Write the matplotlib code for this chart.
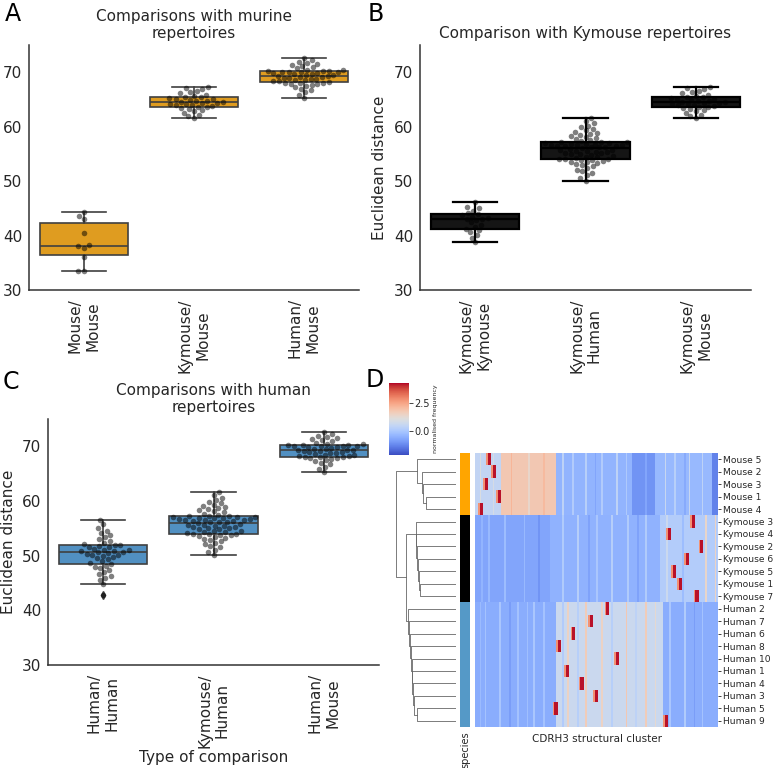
import numpy as np
import pandas as pd
import matplotlib
matplotlib.use("Agg")
import matplotlib.pyplot as plt
import seaborn as sns

# ============================================================
# DATA
# ============================================================

# pairwise Euclidean distances per comparison type
MOUSE_MOUSE = [33.5, 33.5, 36.0, 37.7, 38.0, 38.3, 40.5, 43.0, 43.6, 44.3]
KYMOUSE_KYMOUSE = [38.8, 39.6, 40.1, 40.6, 41.0, 41.2, 41.6, 42.0, 42.4, 42.8, 43.0,
                   43.1, 43.3, 43.5, 43.7, 43.9, 44.2, 44.6, 45.0, 45.2, 46.1]
KYMOUSE_MOUSE = [61.6, 61.9, 62.2, 62.5, 62.8, 63.0, 63.2, 63.4, 63.6, 63.7, 63.8, 63.9,
                 64.0, 64.1, 64.2, 64.3, 64.4, 64.5, 64.6, 64.7, 64.8, 64.9, 65.0, 65.1,
                 65.2, 65.4, 65.5, 65.7, 65.9, 66.1, 66.4, 66.6, 66.9, 67.1, 67.2]
HUMAN_MOUSE = [65.3, 65.8, 66.3, 66.7, 67.0, 67.3, 67.5, 67.7, 67.8, 67.9,
               68.0, 68.0, 68.1, 68.2, 68.3, 68.4, 68.5, 68.6, 68.7, 68.8,
               68.9, 69.0, 69.1, 69.2, 69.3, 69.3, 69.4, 69.5, 69.6, 69.7,
               69.8, 69.9, 70.0, 70.0, 70.1, 70.1, 70.2, 70.2, 70.3, 70.4,
               70.5, 70.7, 70.9, 71.1, 71.3, 71.5, 71.7, 71.9, 72.2, 72.6]
KYMOUSE_HUMAN = [50.1, 50.6, 51.1, 51.5, 51.8, 52.1, 52.4, 52.7, 52.9, 53.1,
                 53.3, 53.5, 53.6, 53.7, 53.8, 53.9, 54.0, 54.0, 54.1, 54.3,
                 54.4, 54.5, 54.6, 54.8, 54.9, 55.0, 55.1, 55.2, 55.3, 55.4,
                 55.5, 55.6, 55.7, 55.8, 55.9, 56.1, 56.2, 56.2, 56.3, 56.4,
                 56.5, 56.5, 56.6, 56.7, 56.7, 56.8, 56.9, 56.9, 57.0, 57.0,
                 57.1, 57.2, 57.2, 57.3, 57.5, 57.7, 57.9, 58.1, 58.3, 58.5,
                 58.7, 58.9, 59.1, 59.3, 59.6, 59.9, 60.2, 60.6, 61.1, 61.6]
HUMAN_HUMAN = [42.8,
               44.8, 45.6, 46.0, 46.3, 46.6, 47.0, 47.4, 47.8, 48.0, 48.2,
               48.4,
               48.7, 49.0, 49.3, 49.6, 49.8, 50.0, 50.1, 50.2, 50.3, 50.5,
               50.6,
               50.7, 50.8, 50.9, 51.0, 51.1, 51.3, 51.5, 51.6, 51.8, 51.9,
               52.0,
               52.2, 52.4, 52.7, 53.0, 53.4, 53.8, 54.2, 54.6, 55.0, 55.8, 56.6]

PANEL_A_LABELS = ["Mouse/\nMouse", "Kymouse/\nMouse", "Human/\nMouse"]
PANEL_B_LABELS = ["Kymouse/\nKymouse", "Kymouse/\nHuman", "Kymouse/\nMouse"]
PANEL_C_LABELS = ["Human/\nHuman", "Kymouse/\nHuman", "Human/\nMouse"]

# heatmap rows (top to bottom)
ROW_LABELS = ["Mouse 5", "Mouse 2", "Mouse 3", "Mouse 1", "Mouse 4",
              "Kymouse 3", "Kymouse 4", "Kymouse 2", "Kymouse 6", "Kymouse 5",
              "Kymouse 1", "Kymouse 7",
              "Human 2", "Human 7", "Human 6", "Human 8", "Human 10", "Human 1",
              "Human 4", "Human 3", "Human 5", "Human 9"]
ROW_SPECIES = ["Mouse"] * 5 + ["Kymouse"] * 7 + ["Human"] * 10

# base level of each species over stretches of the cluster axis (fraction start, end, value)
BASE_SEGMENTS = {
    "Mouse": [(0.00, 0.11, 0.5), (0.11, 0.333, 1.8), (0.333, 0.646, -0.4),
              (0.646, 0.741, -1.0), (0.741, 0.975, -0.3), (0.975, 1.0, -1.3)],
    "Kymouse": [(0.00, 0.31, -0.7), (0.31, 0.76, -0.45), (0.76, 1.0, 0.2)],
    "Human": [(0.00, 0.33, -0.55), (0.33, 0.77, 0.7), (0.77, 1.0, -0.55)],
}
# vertical streaks (fraction, added value)
STREAKS = {
    "Mouse": [(0.02, 0.5), (0.07, 0.4), (0.15, 0.4), (0.22, -0.4), (0.28, 0.3),
              (0.36, 0.8), (0.40, 0.6), (0.45, 0.7), (0.49, -0.3), (0.52, 0.6),
              (0.58, 0.8), (0.62, 0.5), (0.70, 0.3), (0.78, 0.9), (0.82, 0.6),
              (0.86, -0.3), (0.88, 0.9), (0.93, 0.7)],
    "Kymouse": [(0.03, 0.3), (0.05, 0.4), (0.12, 0.5), (0.20, 0.4), (0.26, -0.3),
                (0.36, 0.6), (0.42, 0.7), (0.47, -0.3), (0.50, 0.5), (0.56, 0.7),
                (0.63, 0.6), (0.67, -0.3), (0.70, 0.6), (0.79, 0.5), (0.85, -0.4),
                (0.95, 1.2), (0.985, 1.3)],
    "Human": [(0.02, 0.3), (0.04, 0.5), (0.10, 0.6), (0.14, -0.3), (0.17, 0.5),
              (0.21, 0.4), (0.24, 0.6), (0.28, 0.5), (0.36, -0.5), (0.38, 0.8),
              (0.42, -0.4), (0.45, 1.0), (0.52, 0.8), (0.56, -0.4), (0.62, 1.1),
              (0.66, -0.3), (0.70, 1.0), (0.74, 0.6), (0.80, 0.6), (0.86, 0.7),
              (0.90, -0.3), (0.93, 0.5)],
}
# per-row enriched cluster (fraction along the cluster axis)
HOTSPOTS = [0.059, 0.082, 0.044, 0.103, 0.027,
            0.898, 0.802, 0.933, 0.871, 0.823, 0.844, 0.912,
            0.549, 0.480, 0.409, 0.350, 0.587, 0.380, 0.439, 0.503, 0.333, 0.786]
HOT_VALUE = 4.2
HOT_SHOULDER = 2.8
N_CLUSTERS = 150

SPECIES_COLORS = {"Mouse": "#ffa500", "Kymouse": "#000000", "Human": "#5599c7"}

# dendrogram: (merge height, left, right), leaves are row indices
MOUSE_TREE = (39.3, 0, (34.3, 1, (32.7, 2, (30.3, 3, 4))))
KYMOUSE_TREE = (40.3, 5, (39.7, 6, (38.7, 7, (37.7, 8, (36.7, 9, (35.7, 10, 11))))))
HUMAN_TREE = (47.7, 12, (46.7, 13, (45.7, 14, (45.0, 15, (44.3, 16, (43.7, 17,
              (42.7, 18, (41.7, 19, (39.3, 20, 21)))))))))
ROOT_TREE = (60.3, MOUSE_TREE, (50.3, KYMOUSE_TREE, HUMAN_TREE))

# ============================================================
# FIGURE
# ============================================================

W, H = 774, 768
plt.rcParams["font.family"] = "DejaVu Sans"
plt.rcParams["text.color"] = "#262626"
plt.rcParams["axes.labelcolor"] = "#262626"
plt.rcParams["xtick.color"] = "#262626"
plt.rcParams["ytick.color"] = "#262626"

fig = plt.figure(figsize=(W / 100, H / 100), dpi=100)


def px_axes(left, top, right, bottom):
    return fig.add_axes([left / W, 1 - bottom / H, (right - left) / W, (bottom - top) / H])


def box_panel(ax, data, labels, fill, line, lw, title):
    ax.boxplot(data, positions=[0, 1, 2], widths=0.8, patch_artist=True, zorder=0.9,
               boxprops=dict(facecolor=fill, edgecolor=line, linewidth=lw),
               medianprops=dict(color=line, linewidth=lw),
               whiskerprops=dict(color=line, linewidth=lw),
               capprops=dict(color=line, linewidth=lw),
               flierprops=dict(marker="d", markerfacecolor=line, markeredgecolor=line,
                               markersize=4))
    df = pd.DataFrame({
        "comp": np.repeat(labels, [len(d) for d in data]),
        "dist": np.concatenate(data),
    })
    sns.swarmplot(data=df, x="comp", y="dist", order=labels, color="black", alpha=0.5,
                  size=4, ax=ax)
    ax.set_xlim(-0.5, 2.5)
    ax.set_ylim(30, 75)
    ax.set_yticks([30, 40, 50, 60, 70])
    ax.set_xticks([0, 1, 2])
    ax.set_xticklabels(labels, rotation=90, fontsize=11)
    ax.tick_params(axis="y", labelsize=11, length=0, pad=5)
    ax.tick_params(axis="x", length=0, pad=6)
    ax.set_xlabel("")
    ax.set_ylabel("")
    ax.set_title(title, fontsize=11, pad=5)
    for side in ["top", "right"]:
        ax.spines[side].set_visible(False)
    for side in ["left", "bottom"]:
        ax.spines[side].set_color("#333333")
        ax.spines[side].set_linewidth(1.1)


# ---------------- A
ax_a = px_axes(29, 45, 359, 290)
box_panel(ax_a, [MOUSE_MOUSE, KYMOUSE_MOUSE, HUMAN_MOUSE], PANEL_A_LABELS,
          "#df9c20", "#404040", 1.2, "Comparisons with murine\nrepertoires")

# ---------------- B
ax_b = px_axes(420, 45, 751, 290)
box_panel(ax_b, [KYMOUSE_KYMOUSE, KYMOUSE_HUMAN, KYMOUSE_MOUSE], PANEL_B_LABELS,
          "#151515", "#000000", 1.6, "Comparison with Kymouse repertoires")
ax_b.set_ylabel("Euclidean distance", fontsize=11, labelpad=5)

# ---------------- C
ax_c = px_axes(48, 419, 379, 665)
box_panel(ax_c, [HUMAN_HUMAN, KYMOUSE_HUMAN, HUMAN_MOUSE], PANEL_C_LABELS,
          "#5190c2", "#404040", 1.2, "Comparisons with human\nrepertoires")
ax_c.set_ylabel("Euclidean distance", fontsize=11, labelpad=4)
ax_c.set_xlabel("Type of comparison", fontsize=11, labelpad=2)

# ---------------- D : heatmap built from the segment description
grid = np.zeros((len(ROW_LABELS), N_CLUSTERS))


def col(frac):
    return int(min(N_CLUSTERS - 1, max(0, round(frac * N_CLUSTERS))))


for r, sp in enumerate(ROW_SPECIES):
    for a, b, v in BASE_SEGMENTS[sp]:
        grid[r, col(a):col(b) + (1 if b >= 1.0 else 0)] = v
    for f, dv in STREAKS[sp]:
        grid[r, col(f)] += dv
    c = col(HOTSPOTS[r])
    grid[r, c - 1:c + 1] = HOT_VALUE
    grid[r, c - 2] = max(grid[r, c - 2], HOT_SHOULDER)

ax_hm = px_axes(475, 453, 718, 727)
im = ax_hm.imshow(grid, cmap="coolwarm", vmin=-2.1, vmax=4.3, aspect="auto",
                  interpolation="nearest")
ax_hm.yaxis.tick_right()
ax_hm.set_yticks(np.arange(len(ROW_LABELS)))
ax_hm.set_yticklabels(ROW_LABELS, fontsize=6.6)
ax_hm.tick_params(axis="y", length=2.5, width=0.6, pad=0.8)
ax_hm.set_xticks([])
ax_hm.set_xlabel("CDRH3 structural cluster", fontsize=7.5, labelpad=5)
for s in ax_hm.spines.values():
    s.set_visible(False)

# species colour strip
ax_sp = px_axes(460, 453, 470, 727)
strip = np.array([[matplotlib.colors.to_rgb(SPECIES_COLORS[sp])] for sp in ROW_SPECIES])
ax_sp.imshow(strip, aspect="auto", interpolation="nearest")
ax_sp.set_yticks([])
ax_sp.set_xticks([0])
ax_sp.set_xticklabels(["species"], rotation=90, fontsize=7)
ax_sp.tick_params(axis="x", length=0, pad=3)
for s in ax_sp.spines.values():
    s.set_visible(False)

# dendrogram
ax_dg = px_axes(394, 453, 456, 727)


def draw_tree(ax, node):
    if isinstance(node, int):
        return node + 0.5, 0.0
    h, left, right = node
    yl, hl = draw_tree(ax, left)
    yr, hr = draw_tree(ax, right)
    ax.plot([hl, h, h, hr], [yl, yl, yr, yr], color="#666666", linewidth=0.6)
    return (yl + yr) / 2, h


draw_tree(ax_dg, ROOT_TREE)
ax_dg.set_xlim(62, 0)
ax_dg.set_ylim(len(ROW_LABELS), 0)
ax_dg.axis("off")

# colour bar
cax = px_axes(389, 383, 409, 455)
cb = fig.colorbar(im, cax=cax)
cb.set_ticks([0, 2.5])
cb.set_ticklabels(["0.0", "2.5"])
cb.ax.tick_params(labelsize=7, length=3, width=0.6, pad=1)
cb.outline.set_visible(False)
cb.set_label("normalised frequency", fontsize=4.5, labelpad=2)

# panel letters
for letter, x, y in [("A", 5, 2), ("B", 368, 2), ("C", 3, 370), ("D", 366, 368)]:
    fig.text(x / W, 1 - y / H, letter, fontsize=17, ha="left", va="top", color="black")

fig.savefig("out.png", dpi=100)
